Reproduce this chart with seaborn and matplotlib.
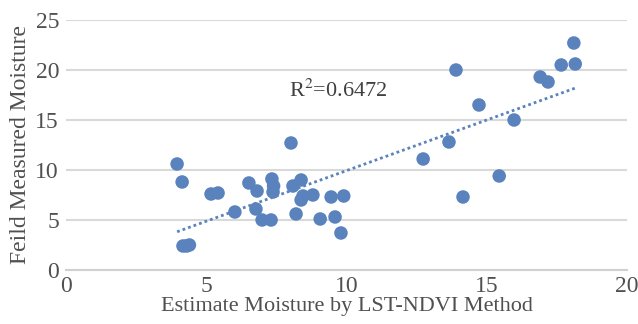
import numpy as np
import pandas as pd
import seaborn as sns
import matplotlib.pyplot as plt

# values
estimate = [3.96, 4.14, 4.17, 4.3, 4.4, 5.17, 5.42, 6.02, 6.52, 6.81, 6.77, 6.99, 7.31,
            7.34, 7.4, 7.38, 8.02, 8.09, 8.38, 8.2, 8.38, 8.45, 8.8, 9.06, 9.45, 9.9,
            9.59, 9.8, 12.73, 13.65, 13.9, 14.15, 14.72, 15.44, 15.97, 16.9, 17.18,
            17.65, 18.1, 18.15]
measured = [10.6, 8.8, 2.4, 2.4, 2.5, 7.6, 7.7, 5.8, 8.7, 7.9, 6.1, 5.0, 5.0,
            9.1, 8.4, 7.8, 12.7, 8.4, 9.0, 5.6, 7.0, 7.4, 7.5, 5.1, 7.3, 7.4,
            5.3, 3.7, 11.1, 12.8, 20.0, 7.3, 16.5, 9.4, 15.0, 19.3, 18.8,
            20.5, 22.7, 20.6]
r2_label = "R$^2$=0.6472"

df = pd.DataFrame({"est": estimate, "meas": measured})

sns.set_theme(style="white")
plt.rcParams['font.family'] = ['Liberation Serif', 'DejaVu Serif']
plt.rcParams['mathtext.fontset'] = 'stix'

blue = "#5a83bd"
txt = "#505050"

fig = plt.figure(figsize=(6.38, 3.24), dpi=100)
ax = fig.add_axes([0.1034, 0.1667, 0.8796, 0.7716])

sns.scatterplot(data=df, x="est", y="meas", ax=ax, color=blue, s=95,
                edgecolor="none", zorder=3)
sns.regplot(data=df, x="est", y="meas", ax=ax, scatter=False, ci=None,
            color=blue, line_kws={"linestyle": (0, (1, 1.1)), "linewidth": 2})

ax.set_xlim(0, 20)
ax.set_ylim(0, 25)
ax.set_xticks([0, 5, 10, 15, 20])
ax.set_yticks([0, 5, 10, 15, 20, 25])
ax.yaxis.grid(True, color="#d9d9d9", linewidth=1.5)
ax.set_axisbelow(True)
for s in ["top", "right", "left"]:
    ax.spines[s].set_visible(False)
ax.spines["bottom"].set_color("#d0d0d0")
ax.spines["bottom"].set_linewidth(1.5)
ax.tick_params(axis="x", length=3, color="#d0d0d0", labelsize=17, labelcolor=txt, pad=1)
ax.tick_params(axis="y", length=0, labelsize=17, labelcolor=txt, pad=5)

ax.set_xlabel("Estimate Moisture by LST-NDVI Method", fontsize=16, color=txt, labelpad=0)
ax.set_ylabel("Feild Measured Moisture", fontsize=17, color=txt, labelpad=3)
ax.text(7.95, 17.9, r2_label, fontsize=16, color="#404040", va="center", ha="left")

fig.savefig("out.png", dpi=100)
